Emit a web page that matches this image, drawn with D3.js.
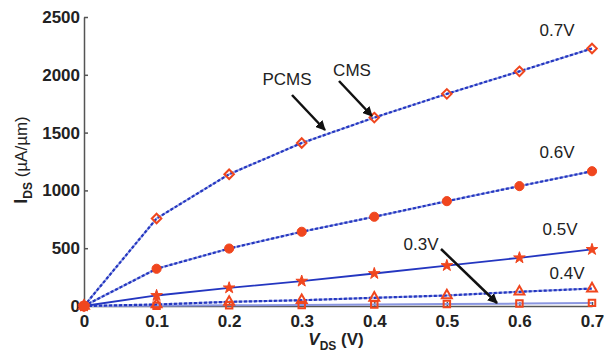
<!DOCTYPE html>
<html>
<head>
<meta charset="utf-8">
<script src="https://cdn.jsdelivr.net/npm/d3@7"></script>
<style>
body { margin: 0; background: #fff; }
text { font-family: Arial, "Liberation Sans", sans-serif; }
</style>
</head>
<body>
<div id="chart"></div>
<script>
const width = 604
const height = 352
const margin = { top: 17, bottom: 46, right: 12, left: 84 }

// data
const vds = [0, 0.1, 0.2, 0.3, 0.4, 0.5, 0.6, 0.7]
const id07 = [0, 757, 1140, 1410, 1630, 1835, 2030, 2228]
const id06 = [0, 322, 497, 642, 772, 907, 1037, 1166]
const id05 = [0, 91, 157, 215, 281, 350, 417, 489]
const id04 = [0, 13, 36, 50, 71, 91, 123, 151]
const id03 = [0, 3, 6, 9, 13, 17, 21, 27]
const xTicks = [0, 0.1, 0.2, 0.3, 0.4, 0.5, 0.6, 0.7]
const yTicks = [0, 500, 1000, 1500, 2000, 2500]

const series = [
    { name: "0.3V", values: id03, symbol: d3.symbolSquare, size: 42, filled: false, style: "solid3" },
    { name: "0.4V", values: id04, symbol: d3.symbolTriangle, size: 42, filled: false, style: "dotted" },
    { name: "0.5V", values: id05, symbol: d3.symbolStar, size: 42, filled: true, style: "solid" },
    { name: "0.6V", values: id06, symbol: d3.symbolCircle, size: 66, filled: true, style: "dotted" },
    { name: "0.7V", values: id07, symbol: d3.symbolDiamond2, size: 58, filled: false, style: "dotted" },
]

const red = "#f0461e"
const blue = "#2436c0"
const lightBlue = "#9aa6e6"

const svg = d3.select("div#chart").append("svg").attr("width", width).attr("height", height)

const defs = svg.append("defs")
defs.append("marker").attr("id", "arrow")
    .attr("viewBox", "0 0 10 10").attr("refX", 9).attr("refY", 5)
    .attr("markerWidth", 4).attr("markerHeight", 4).attr("orient", "auto")
    .attr("markerUnits", "strokeWidth")
    .append("path").attr("d", "M0,0 L10,5 L0,10 z").attr("fill", "#111")

const x = d3.scaleLinear().domain([0, 0.7]).range([margin.left, width - margin.right])
const y = d3.scaleLinear().domain([0, 2500]).range([height - margin.bottom, margin.top])

const xAxis = d3.axisBottom(x).tickValues(xTicks).tickFormat(d => d === 0 ? "0" : d3.format(".1f")(d))
    .tickSizeInner(-4).tickSizeOuter(0).tickPadding(9)
const yAxis = d3.axisLeft(y).tickValues(yTicks).tickFormat(d3.format("d"))
    .tickSizeInner(-4).tickSizeOuter(0).tickPadding(4)

const xAxisGroup = svg.append("g").attr("transform", `translate(0, ${height - margin.bottom})`).call(xAxis)
const yAxisGroup = svg.append("g").attr("transform", `translate(${margin.left}, 0)`).call(yAxis)

for (const g of [xAxisGroup, yAxisGroup]) {
    g.selectAll("path, line").attr("stroke", "#555").attr("stroke-width", 1.5)
    g.selectAll("text").attr("fill", "#222").style("font-size", "17px").style("font-weight", "bold")
}

const line = d3.line().x((d, i) => x(vds[i])).y(d => y(d))
const lines = svg.append("g")

series.forEach(s => {
    if (s.style === "dotted") {
        lines.append("path").datum(s.values).attr("d", line)
            .attr("fill", "none").attr("stroke", lightBlue).attr("stroke-width", 2)
        lines.append("path").datum(s.values).attr("d", line)
            .attr("fill", "none").attr("stroke", blue).attr("stroke-width", 2.2)
            .attr("stroke-dasharray", "3,2")
    } else if (s.style === "solid") {
        lines.append("path").datum(s.values).attr("d", line)
            .attr("fill", "none").attr("stroke", blue).attr("stroke-width", 1.8)
    } else {
        lines.append("path").datum(s.values).attr("d", line)
            .attr("fill", "none").attr("stroke", "#8a96e0").attr("stroke-width", 2)
    }
})

const marks = svg.append("g")
series.forEach(s => {
    const sym = d3.symbol().type(s.symbol).size(s.size)
    marks.selectAll(null).data(s.values).enter().append("path")
        .attr("d", sym)
        .attr("transform", (d, i) => `translate(${x(vds[i])}, ${y(d)})`)
        .attr("fill", s.filled ? red : "none")
        .attr("stroke", red)
        .attr("stroke-width", s.filled ? 1 : 2)
})
// the big dot at the origin
marks.append("circle").attr("cx", x(0)).attr("cy", y(0)).attr("r", 5.5).attr("fill", red)

// curve labels
const labels = [
    { text: "0.7V", vx: 0.7, vy: 2228, dx: -35, dy: -12 },
    { text: "0.6V", vx: 0.7, vy: 1166, dx: -35, dy: -13 },
    { text: "0.5V", vx: 0.7, vy: 489, dx: -32, dy: -14 },
    { text: "0.4V", vx: 0.7, vy: 151, dx: -25, dy: -10 },
]
svg.append("g").selectAll("text").data(labels).enter().append("text")
    .attr("x", d => x(d.vx) + d.dx).attr("y", d => y(d.vy) + d.dy)
    .attr("text-anchor", "middle").style("font-size", "17px").attr("fill", "#222")
    .text(d => d.text)

const notes = svg.append("g").style("font-size", "17px").attr("fill", "#222")
notes.append("text").attr("x", 287).attr("y", 85).attr("text-anchor", "middle").text("PCMS")
notes.append("text").attr("x", 352).attr("y", 76).attr("text-anchor", "middle").text("CMS")
notes.append("text").attr("x", 421).attr("y", 250).attr("text-anchor", "middle").text("0.3V")

const arrows = [
    [292, 95, 325, 130],
    [339, 81, 372, 116],
    [441, 249, 497, 303],
]
svg.append("g").selectAll("line").data(arrows).enter().append("line")
    .attr("x1", d => d[0]).attr("y1", d => d[1]).attr("x2", d => d[2]).attr("y2", d => d[3])
    .attr("stroke", "#111").attr("stroke-width", 2.5).attr("marker-end", "url(#arrow)")

// axis titles
const yt = svg.append("text").attr("transform", "translate(27, 160) rotate(-90)")
    .attr("text-anchor", "middle").attr("fill", "#222").style("font-size", "17px")
yt.append("tspan").style("font-weight", "bold").style("font-size", "18px").text("I")
yt.append("tspan").attr("dy", 5).style("font-size", "12px").style("font-weight", "bold").text("DS")
yt.append("tspan").attr("dy", -5).text(" (\u00b5A/\u00b5m)")

const xt = svg.append("text").attr("x", 336).attr("y", 345)
    .attr("text-anchor", "middle").attr("fill", "#222").style("font-size", "17px").style("font-weight", "bold")
xt.append("tspan").style("font-style", "italic").text("V")
xt.append("tspan").attr("dy", 5).style("font-size", "12px").text("DS")
xt.append("tspan").attr("dy", -5).text(" (V)")
</script>
</body>
</html>
